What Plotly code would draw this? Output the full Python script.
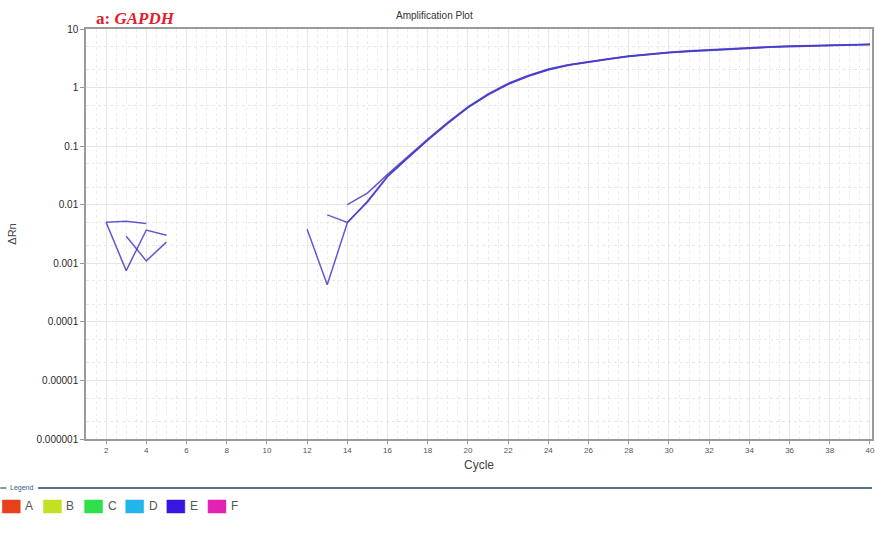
import plotly.graph_objects as go

cycles = list(range(1, 41))

# Delta Rn per well (None = not drawn on the log scale)
well_1 = [None, 0.0050, 0.00075, 0.0037, 0.0030, None, None, None, None, None, None,
          0.0038, 0.00043, 0.0049, 0.0115, 0.031, 0.064, 0.128, 0.25, 0.46, 0.76,
          1.15, 1.58, 2.03, 2.42, 2.76, 3.08, 3.42, 3.72, 3.97, 4.18, 4.38, 4.57,
          4.76, 4.92, 5.06, 5.17, 5.28, 5.37, 5.45]
well_2 = [None, 0.0050, 0.0052, 0.0048, None, None, None, None, None, None, None,
          None, 0.0067, 0.0050, 0.0110, 0.030, 0.062, 0.126, 0.245, 0.455, 0.75,
          1.14, 1.56, 2.00, 2.40, 2.73, 3.04, 3.38, 3.68, 3.93, 4.14, 4.33, 4.52,
          4.70, 4.86, 5.00, 5.12, 5.23, 5.33, 5.42]
well_3 = [None, None, 0.0029, 0.0011, 0.0023, None, None, None, None, None, None,
          None, None, 0.0100, 0.0158, 0.033, 0.067, 0.132, 0.255, 0.47, 0.78,
          1.18, 1.61, 2.07, 2.46, 2.80, 3.12, 3.46, 3.77, 4.02, 4.24, 4.44, 4.63,
          4.82, 4.97, 5.11, 5.22, 5.32, 5.41, 5.49]
wells = [well_1, well_2, well_3]

x_ticks = list(range(2, 41, 2))
y_tickvals = [1e-6, 1e-5, 1e-4, 1e-3, 1e-2, 1e-1, 1, 10]
y_ticktext = ["0.000001", "0.00001", "0.0001", "0.001", "0.01", "0.1", "1", "10"]

legend_names = ["A", "B", "C", "D", "E", "F"]
legend_colors = ["#e8401a", "#c4e024", "#2ee04a", "#22b4ea", "#3a14e0", "#e222b4"]

fig = go.Figure()
for w in wells:
    fig.add_trace(go.Scatter(x=cycles, y=w, mode="lines", connectgaps=False,
                             line=dict(color="rgba(70,60,200,0.85)", width=1.5),
                             showlegend=False, hoverinfo="skip"))

W, H = 875, 547
L, R, T, B = 86, 0, 29, 108
pw, ph = W - L - R, H - T - B

def px(x):
    return (x - L) / pw

def py(y):
    return (H - B - y) / ph

shapes = []
annotations = []

# Legend header line
shapes.append(dict(type="line", xref="paper", yref="paper", x0=px(0), x1=px(6),
                   y0=py(488), y1=py(488), line=dict(color="#5a6e86", width=1.5)))
shapes.append(dict(type="line", xref="paper", yref="paper", x0=px(38), x1=px(875),
                   y0=py(488), y1=py(488), line=dict(color="#5a6e86", width=2)))
annotations.append(dict(text="Legend", xref="paper", yref="paper", x=px(8), y=py(488),
                        xanchor="left", yanchor="middle", showarrow=False,
                        font=dict(size=7, color="#3a5a8a", family="Liberation Sans")))

spacing = 41.3
for i, (n, c) in enumerate(zip(legend_names, legend_colors)):
    x0 = 2 + i * spacing
    shapes.append(dict(type="rect", xref="paper", yref="paper", x0=px(x0), x1=px(x0 + 18),
                       y0=py(513), y1=py(500), fillcolor=c, line=dict(color=c, width=0.5)))
    annotations.append(dict(text=n, xref="paper", yref="paper", x=px(x0 + 21), y=py(506.5),
                            xanchor="left", yanchor="middle", showarrow=False,
                            font=dict(size=12, color="#555555", family="Liberation Sans")))

annotations.append(dict(text="Amplification Plot", xref="paper", yref="paper",
                        x=px(436), y=py(16), xanchor="center", yanchor="middle",
                        showarrow=False, font=dict(size=10, color="#333333", family="Liberation Sans")))
annotations.append(dict(text="<b>a: <i>GAPDH</i></b>", xref="paper", yref="paper",
                        x=px(94), y=py(19), xanchor="left", yanchor="middle",
                        showarrow=False, font=dict(size=17, color="#e0202c", family="Liberation Serif")))

fig.update_layout(
    width=W, height=H, margin=dict(l=L, r=R, t=T, b=B), autosize=False,
    paper_bgcolor="white", plot_bgcolor="white",
    shapes=shapes, annotations=annotations, showlegend=False,
    font=dict(family="Liberation Sans"),
)
fig.update_xaxes(
    range=[1, 40.1], tickvals=x_ticks, ticks="outside", ticklen=3, tickcolor="#999999",
    tickfont=dict(size=8, color="#555555"), ticklabeloverflow="allow",
    showline=True, linecolor="#9a9a9a", linewidth=1.5, mirror=True,
    showgrid=True, gridcolor="#e6e6e6", gridwidth=1,
    minor=dict(dtick=0.5, showgrid=True, gridcolor="#ececec", griddash="dot", gridwidth=1),
    title=dict(text="Cycle", font=dict(size=12, color="#444444"), standoff=6),
    zeroline=False,
)
fig.update_yaxes(
    type="log", range=[-6, 1], tickvals=y_tickvals, ticktext=y_ticktext,
    ticks="outside", ticklen=4, tickcolor="#999999",
    tickfont=dict(size=10, color="#2a2a2a"),
    showline=True, linecolor="#9a9a9a", linewidth=1.5, mirror=True,
    showgrid=True, gridcolor="#e6e6e6", gridwidth=1,
    minor=dict(showgrid=True, gridcolor="#e8e8e8", griddash="dot", gridwidth=1),
    title=dict(text="ΔRn", font=dict(size=11, color="#444444"), standoff=18),
    zeroline=False,
)

fig.write_html(
    "out.html",
    config={"responsive": False, "displayModeBar": False},
    post_script="document.body.style.margin='0';document.body.style.overflow='hidden';",
)
